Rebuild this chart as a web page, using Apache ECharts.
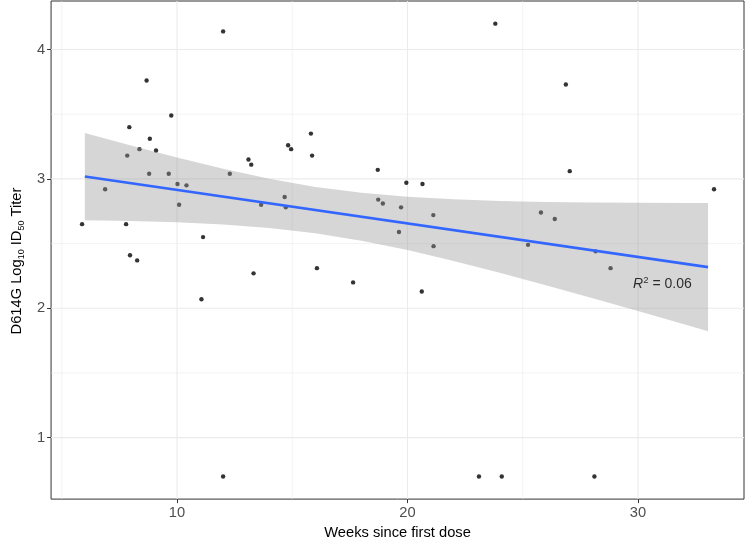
<!DOCTYPE html>
<html>
<head>
<meta charset="utf-8">
<script src="https://cdn.jsdelivr.net/npm/echarts@6/dist/echarts.min.js"></script>
<style>
  html, body { margin: 0; padding: 0; background: #ffffff; }
  #chart { width: 747px; height: 545px; }
</style>
</head>
<body>
<div id="chart"></div>
<script>
// ---- data ----
const weeks = [12.00, 8.68, 9.75, 7.93, 8.82, 8.37, 9.09, 7.84, 13.10, 13.22,
               8.79, 9.64, 12.29, 6.88, 10.02, 10.41, 10.09, 13.65, 5.88, 7.79,
               11.13, 7.96, 8.27, 11.06, 13.32, 12.00, 23.81, 15.81, 14.82, 14.95,
               15.86, 18.71, 19.95, 20.65, 14.67, 14.72, 18.73, 18.93, 19.72, 21.12,
               19.63, 21.13, 16.07, 17.64, 20.62, 23.10, 26.87, 27.04, 33.30, 25.79,
               26.39, 25.23, 28.16, 28.81, 24.09, 28.11];
const titer = [4.14, 3.76, 3.49, 3.40, 3.31, 3.23, 3.22, 3.18, 3.15, 3.11,
               3.04, 3.04, 3.04, 2.92, 2.96, 2.95, 2.80, 2.80, 2.65, 2.65,
               2.55, 2.41, 2.37, 2.07, 2.27, 0.70, 4.20, 3.35, 3.26, 3.23,
               3.18, 3.07, 2.97, 2.96, 2.86, 2.78, 2.84, 2.81, 2.78, 2.72,
               2.59, 2.48, 2.31, 2.20, 2.13, 0.70, 3.73, 3.06, 2.92, 2.74,
               2.69, 2.49, 2.44, 2.31, 0.70, 0.70];

// fitted line (end points) and confidence band
const fitX = [6.00, 33.04];
const fitY = [3.018, 2.318];
const bandX     = [6, 8, 10, 12, 14, 16, 18, 20, 22, 24, 26, 28, 30, 32, 33.04];
const bandUpper = [3.355, 3.258, 3.165, 3.078, 3.001, 2.938, 2.892, 2.862, 2.842, 2.830, 2.822, 2.818, 2.816, 2.814, 2.814];
const bandLower = [2.681, 2.675, 2.665, 2.648, 2.621, 2.580, 2.522, 2.450, 2.366, 2.274, 2.178, 2.079, 1.978, 1.876, 1.822];

// axes
const xTicks = [10, 20, 30];
const xMinor = [5, 15, 25];
const yTicks = [1, 2, 3, 4];
const yMinor = [1.5, 2.5, 3.5];

// annotation
const r2Label = { x: 31.06, y: 2.188, value: '0.06' };

const FONT = '"Liberation Sans", Arial, Helvetica, sans-serif';

const chart = echarts.init(document.getElementById('chart'), null, { renderer: 'canvas' });

function gridLineSeries(values, dir, width) {
  return {
    type: 'custom',
    silent: true,
    z: 1,
    data: values.map(v => dir === 'v' ? [v, 1] : [10, v]),
    renderItem: function (params, api) {
      const cs = params.coordSys;
      if (dir === 'v') {
        const p = api.coord([api.value(0), 1]);
        return { type: 'line', shape: { x1: p[0], y1: cs.y, x2: p[0], y2: cs.y + cs.height },
                 style: { stroke: '#ebebeb', lineWidth: width } };
      } else {
        const p = api.coord([10, api.value(1)]);
        return { type: 'line', shape: { x1: cs.x, y1: p[1], x2: cs.x + cs.width, y2: p[1] },
                 style: { stroke: '#ebebeb', lineWidth: width } };
      }
    }
  };
}

const option = {
  animation: false,
  backgroundColor: '#ffffff',
  grid: {
    left: 35.5, top: 1, width: 708.5, height: 507,
    show: true, borderColor: '#333333', borderWidth: 1, backgroundColor: 'transparent'
  },
  xAxis: {
    type: 'value',
    min: 4.535, max: 34.6,
    name: 'Weeks since first dose',
    nameLocation: 'middle',
    nameGap: 22,
    nameTextStyle: { fontSize: 14.7, color: '#000000', fontFamily: FONT },
    axisLine: { show: false },
    axisTick: { show: true, length: 4, customValues: xTicks, lineStyle: { color: '#333333', width: 1 } },
    axisLabel: { customValues: xTicks, fontSize: 14.7, color: '#4d4d4d', fontFamily: FONT, margin: 6 },
    splitLine: { show: false }
  },
  yAxis: {
    type: 'value',
    min: 0.525, max: 4.375,
    name: 'D614G Log{sub|10} ID{sub|50} Titer',
    nameLocation: 'middle',
    nameGap: 22,
    nameTextStyle: {
      fontSize: 14.7, color: '#000000', fontFamily: FONT, lineHeight: 18,
      padding: [0, 22, 0, 0],
      rich: { sub: { fontSize: 9, color: '#000000', fontFamily: FONT, lineHeight: 10, verticalAlign: 'bottom' } }
    },
    axisLine: { show: false },
    axisTick: { show: true, length: 4, customValues: yTicks, lineStyle: { color: '#333333', width: 1 } },
    axisLabel: { customValues: yTicks, fontSize: 14.7, color: '#4d4d4d', fontFamily: FONT, margin: 6 },
    splitLine: { show: false }
  },
  series: [
    gridLineSeries(xMinor, 'v', 0.6),
    gridLineSeries(yMinor, 'h', 0.6),
    gridLineSeries(xTicks, 'v', 1.1),
    gridLineSeries(yTicks, 'h', 1.1),
    {
      type: 'scatter',
      z: 3,
      symbol: 'circle',
      symbolSize: 4.4,
      itemStyle: { color: '#000000' },
      data: weeks.map((w, i) => [w, titer[i]])
    },
    {
      type: 'custom',
      z: 4,
      silent: true,
      data: [[bandX[0], bandUpper[0]]],
      renderItem: function (params, api) {
        const pts = [];
        for (let i = 0; i < bandX.length; i++) pts.push(api.coord([bandX[i], bandUpper[i]]));
        for (let i = bandX.length - 1; i >= 0; i--) pts.push(api.coord([bandX[i], bandLower[i]]));
        return { type: 'polygon', shape: { points: pts, smooth: 0 },
                 style: { fill: 'rgba(153,153,153,0.4)', stroke: null } };
      }
    },
    {
      type: 'line',
      z: 5,
      symbol: 'none',
      lineStyle: { color: '#3366FF', width: 2.6 },
      data: fitX.map((x, i) => [x, fitY[i]])
    },
    {
      type: 'scatter',
      z: 6,
      silent: true,
      symbolSize: 0,
      data: [[r2Label.x, r2Label.y]],
      label: {
        show: true,
        position: 'inside',
        formatter: '{i|R}{s|2}{n| = ' + r2Label.value + '}',
        rich: {
          i: { fontStyle: 'italic', fontSize: 14, color: '#000', fontFamily: FONT, lineHeight: 17 },
          s: { fontSize: 9.5, color: '#000', fontFamily: FONT, lineHeight: 10, verticalAlign: 'top' },
          n: { fontSize: 14, color: '#000', fontFamily: FONT, lineHeight: 17 }
        }
      }
    }
  ]
};

chart.setOption(option);
</script>
</body>
</html>
